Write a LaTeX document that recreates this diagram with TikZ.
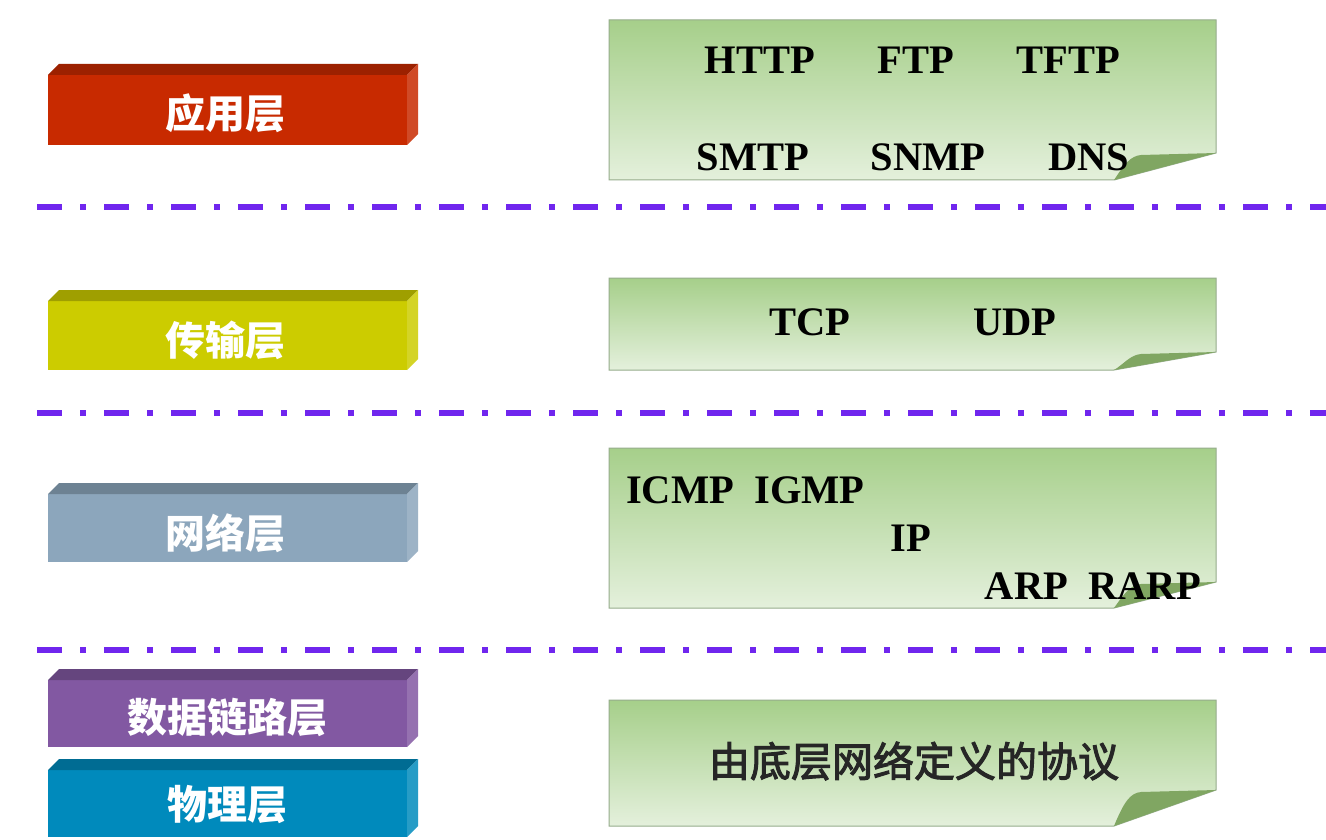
\documentclass[tikz,border=0pt]{standalone}
\usepackage{fontspec}
\setmainfont{Liberation Serif}
\newfontfamily\cjk{Noto Sans CJK SC}
\newfontfamily\cjkm{Noto Sans CJK SC}[FakeBold=2.5]
\definecolor{gtop}{RGB}{166,207,138}
\definecolor{gbot}{RGB}{228,240,220}
\definecolor{gborder}{RGB}{150,172,140}
\definecolor{gfold}{RGB}{128,166,98}
\definecolor{dline}{RGB}{112,38,238}
\definecolor{cred}{RGB}{200,42,0}
\definecolor{cyel}{RGB}{204,204,0}
\definecolor{cgry}{RGB}{140,166,188}
\definecolor{cpur}{RGB}{130,88,162}
\definecolor{ctea}{RGB}{0,138,188}
\tikzset{
  layertext/.style={font=\cjk\bfseries\fontsize{40}{42}\selectfont, text=white, inner sep=0pt},
  prototext/.style={font=\bfseries\fontsize{40.5}{43}\selectfont, text=black, inner sep=0pt},
  notetext/.style={font=\cjkm\fontsize{41}{43}\selectfont, text=black!85, inner sep=0pt},
  sepline/.style={draw=dline, line width=5.5pt, dash pattern=on 25pt off 18pt on 6pt off 18pt},
}
\newcommand{\layerbar}[3]{%
  \fill[#3] (48,#1) rectangle (407,#2);
  \fill[#3!78!black] (48,#1) -- (59,#1-11) -- (418,#1-11) -- (407,#1) -- cycle;
  \fill[#3!85!white] (407,#1) -- (418,#1-11) -- (418,#2-11) -- (407,#2) -- cycle;
}
\newcommand{\notebox}[3]{%
  \shade[top color=gtop, bottom color=gbot, draw=gborder, line width=1pt]
    (609,#1) -- (1216,#1) -- (1216,#2-#3) -- (1114,#2) -- (609,#2) -- cycle;
  \fill[gfold] (1216,#2-#3) -- (1114,#2) .. controls (1124,#2-#3+12) and (1130,#2-#3+3) .. (1141,#2-#3+2) -- cycle;
}
\begin{document}
\begin{tikzpicture}[x=1pt,y=-1pt]
\useasboundingbox (0,0) rectangle (1326,840);
\fill[white] (0,0) rectangle (1326,840);
% left layer bars
\layerbar{75}{145}{cred}
\layerbar{301}{370}{cyel}
\layerbar{494}{562}{cgry}
\layerbar{680}{747}{cpur}
\layerbar{770}{837}{ctea}
\node[layertext] (app) at (225,113) {应用层};
\node[layertext] (trans) at (225,340) {传输层};
\node[layertext] (net) at (225,533) {网络层};
\node[layertext] (link) at (227,717) {数据链路层};
\node[layertext] (phy) at (227,805) {物理层};
% separator lines
\draw[sepline] (37,207) -- (1326,207);
\draw[sepline] (37,413) -- (1326,413);
\draw[sepline] (37,650) -- (1326,650);
% green note boxes
\notebox{20}{180}{27}
\notebox{278}{370}{18}
\notebox{448}{608}{26}
\notebox{700}{826}{36}
% protocol texts
\node[prototext] (http) at (760,60) {HTTP};
\node[prototext] (ftp) at (916,60) {FTP};
\node[prototext] (tftp) at (1068,60) {TFTP};
\node[prototext] (smtp) at (753,157) {SMTP};
\node[prototext] (snmp) at (928,157) {SNMP};
\node[prototext] (dns) at (1089,157) {DNS};
\node[prototext] (tcp) at (810,322) {TCP};
\node[prototext] (udp) at (1015,322) {UDP};
\node[prototext,anchor=west] (icmp) at (626,490) {ICMP\ \ IGMP};
\node[prototext] (ip) at (911,538) {IP};
\node[prototext,anchor=east] (arp) at (1201,586) {ARP\ \ RARP};
\node[notetext] (under) at (914,761) {由底层网络定义的协议};
\end{tikzpicture}
\end{document}
